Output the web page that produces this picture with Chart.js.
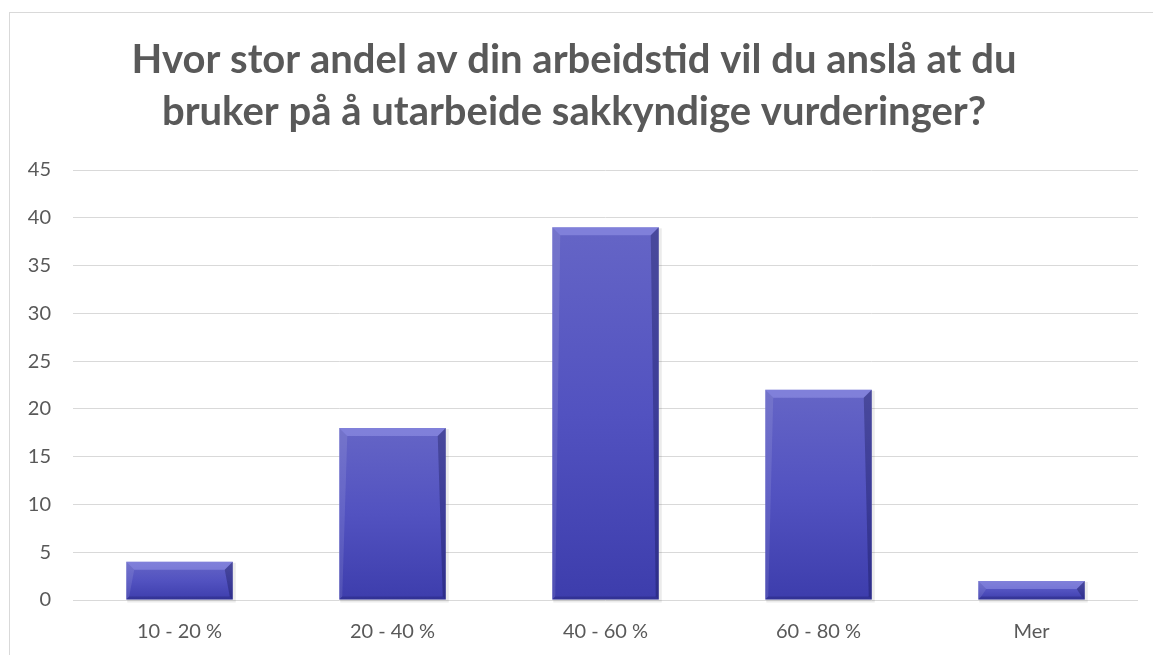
<!DOCTYPE html>
<html lang="no">
<head>
    <meta charset="UTF-8">
    <title>Andel arbeidstid - sakkyndige vurderinger</title>
    <script src="https://cdn.jsdelivr.net/npm/chart.js"></script>
    <style>
        body, html { margin: 0; padding: 0; background: #fff; }
        #chartContainer { position: relative; width: 1153px; height: 655px; }
        #frame { position: absolute; left: 9px; top: 12px; right: 0; bottom: 0;
                 border-top: 1px solid #d9d9d9; border-left: 1px solid #d9d9d9; pointer-events: none; }
    </style>
</head>
<body>
    <div id="chartContainer">
        <div id="frame"></div>
        <canvas id="chartCanvas"></canvas>
    </div>

    <script>
        const titleLines = ['Hvor stor andel av din arbeidstid vil du anslå at du', 'bruker på å utarbeide sakkyndige vurderinger?'];
        const categories = ['10 - 20 %', '20 - 40 %', '40 - 60 %', '60 - 80 %', 'Mer'];
        const counts = [4, 18, 39, 22, 2];
        const yMax = 45;
        const yStep = 5;

        const textColor = '#595959';
        const gridColor = '#d9d9d9';

        // gradient per bar: lighter at top, darker at bottom
        function barGradient(context) {
            const chart = context.chart;
            if (!chart.chartArea || context.type !== 'data') return '#5050c0';
            const yScale = chart.scales.y;
            const top = yScale.getPixelForValue(context.raw);
            const bottom = yScale.getPixelForValue(0);
            if (!isFinite(top) || bottom - top < 1) return '#5050c0';
            const g = chart.ctx.createLinearGradient(0, top, 0, bottom);
            g.addColorStop(0, '#6565c6');
            g.addColorStop(0.5, '#5252c0');
            g.addColorStop(1, '#3d3dac');
            return g;
        }

        function poly(ctx, pts, color) {
            ctx.beginPath();
            ctx.moveTo(pts[0][0], pts[0][1]);
            for (let i = 1; i < pts.length; i++) ctx.lineTo(pts[i][0], pts[i][1]);
            ctx.closePath();
            ctx.fillStyle = color;
            ctx.fill();
        }

        // soft shadow behind the bars and a bevel on top of them
        const bevelPlugin = {
            id: 'bevel',
            beforeDatasetsDraw(chart) {
                const ctx = chart.ctx;
                ctx.save();
                chart.getDatasetMeta(0).data.forEach(bar => {
                    const { x, y, base, width } = bar.getProps(['x', 'y', 'base', 'width'], true);
                    ctx.fillStyle = 'rgba(0,0,0,0.08)';
                    ctx.fillRect(x - width / 2 + 1, y + 1, width + 2, base - y + 2);
                });
                ctx.restore();
            },
            afterDatasetsDraw(chart) {
                const ctx = chart.ctx;
                ctx.save();
                chart.getDatasetMeta(0).data.forEach(bar => {
                    const { x, y, base, width } = bar.getProps(['x', 'y', 'base', 'width'], true);
                    const l = x - width / 2, r = x + width / 2, t = y, b = base;
                    const d = Math.min(8, (b - t) / 2);
                    const s = Math.min(3, (b - t) / 2);
                    poly(ctx, [[l, t], [r, t], [r - d, t + d], [l + d, t + d]], 'rgba(180,180,255,0.35)');
                    poly(ctx, [[l, t], [l + d, t + d], [l + s, b - s], [l, b]], 'rgba(255,255,255,0.10)');
                    poly(ctx, [[r, t], [r, b], [r - s, b - s], [r - d, t + d]], 'rgba(10,10,60,0.30)');
                    poly(ctx, [[l, b], [l + s, b - s], [r - s, b - s], [r, b]], 'rgba(10,10,60,0.20)');
                });
                ctx.restore();
            }
        };

        const ctx = document.getElementById('chartCanvas').getContext('2d');
        new Chart(ctx, {
            type: 'bar',
            data: {
                labels: categories,
                datasets: [{
                    data: counts,
                    backgroundColor: barGradient,
                    borderWidth: 0,
                    categoryPercentage: 1.0,
                    barPercentage: 0.5
                }]
            },
            options: {
                responsive: true,
                maintainAspectRatio: false,
                animation: false,
                layout: { padding: { left: 10, right: 15, top: 0, bottom: 0 } },
                plugins: {
                    legend: { display: false },
                    tooltip: { enabled: false },
                    title: {
                        display: true,
                        text: titleLines,
                        color: textColor,
                        font: { family: 'Lato', weight: 'bold', size: 40, lineHeight: 1.3 },
                        padding: { top: 34, bottom: 32 }
                    }
                },
                scales: {
                    x: {
                        grid: { display: false, drawTicks: false },
                        border: { display: false },
                        ticks: { color: textColor, font: { family: 'Lato', size: 20 }, padding: 20 },
                        afterFit(scale) { scale.height = 55; }
                    },
                    y: {
                        min: 0,
                        max: yMax,
                        ticks: { stepSize: yStep, color: textColor, font: { family: 'Lato', size: 20 }, padding: 22 },
                        grid: { color: gridColor, lineWidth: 1, drawTicks: false },
                        border: { display: false },
                        afterFit(scale) { scale.width = 63; }
                    }
                }
            },
            plugins: [bevelPlugin]
        });
    </script>
</body>
</html>
